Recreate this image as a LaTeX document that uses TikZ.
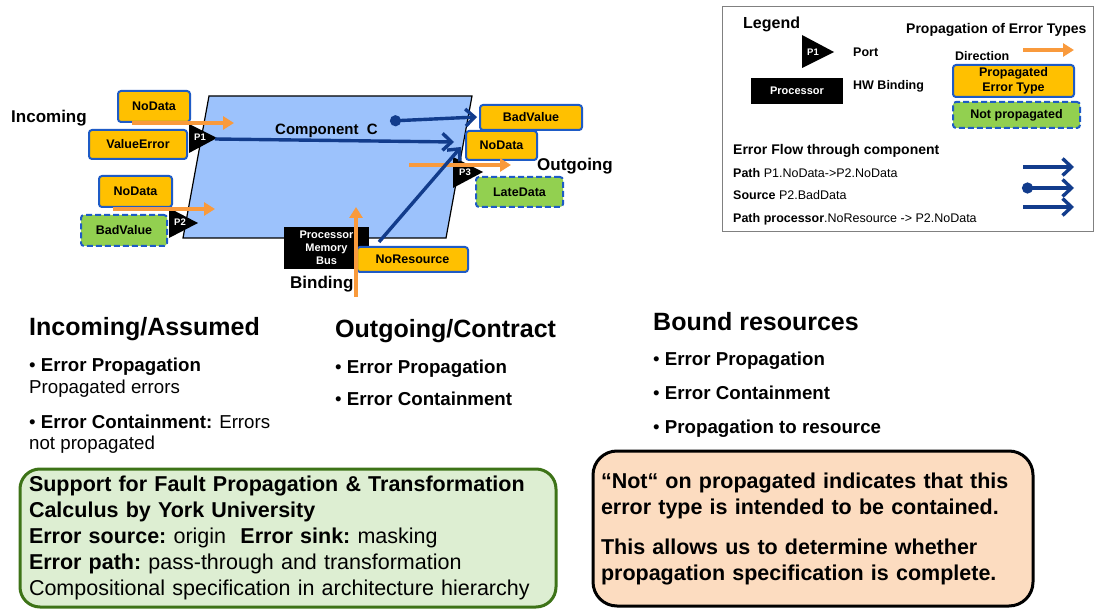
\documentclass[tikz,border=0pt]{standalone}
\usepackage{fontspec}
\setmainfont{Liberation Sans}
\usetikzlibrary{arrows.meta}

\definecolor{errorange}{HTML}{FFC000}
\definecolor{boxblue}{HTML}{1E5BC6}
\definecolor{okgreen}{HTML}{92D050}
\definecolor{compblue}{HTML}{9CC2FC}
\definecolor{flowblue}{HTML}{123C8C}
\definecolor{dirorange}{HTML}{F99A3C}
\definecolor{yorkfill}{HTML}{DDEED2}
\definecolor{yorkgreen}{HTML}{3D7317}
\definecolor{notefill}{HTML}{FCDCC0}

\newcommand{\fsz}[1]{\fontsize{#1}{#1}\selectfont}

\tikzset{
  txt/.style={inner sep=0pt, anchor=base west, font=\fsz{#1}},
  btxt/.style={inner sep=0pt, anchor=base west, font=\fsz{#1}\bfseries},
  errbox/.style={draw=boxblue, fill=errorange, line width=2pt, rounded corners=3pt,
    inner sep=0pt, align=center, font=\fontsize{12.5}{15}\selectfont\bfseries},
  okbox/.style={errbox, fill=okgreen, dash pattern=on 6pt off 3pt},
  procbox/.style={fill=black, text=white, inner sep=0pt, align=center,
    font=\fontsize{11}{13}\selectfont\bfseries},
  porttxt/.style={text=white, inner sep=0pt, font=\fsz{9.5}\bfseries},
  dirarrow/.style={draw=dirorange, line width=3.2pt, -{Triangle[length=11pt,width=13pt]}},
  flow/.style={draw=flowblue, line width=3.4pt, -{Straight Barb[length=9pt,width=17pt]}},
  srcflow/.style={flow, {Circle[length=11pt]}-{Straight Barb[length=9pt,width=17pt]}}
}

\begin{document}
\begin{tikzpicture}[x=1pt, y=-1pt]
\useasboundingbox (0,0) rectangle (1095,609);

% component C with its ports
\filldraw[fill=compblue, draw=black, line width=1.2pt] (209,96) -- (472,96) -- (446,238) -- (183,238) -- cycle;
\node[btxt=15] (comp) at (275,134.4) {Component\ \ C};

\fill (189,124) -- (217,138) -- (189,153) -- cycle;
\node[porttxt] (p1) at (200,137) {P1};
\fill (169,208) -- (198,223) -- (169,238) -- cycle;
\node[porttxt] (p2) at (180,222) {P2};
\fill (453,157) -- (483,172) -- (453,188) -- cycle;
\node[porttxt] (p3) at (465,172) {P3};

% error types on the ports
\node[errbox, minimum width=72, minimum height=31] (in1nd) at (154,106.5) {NoData};
\node[errbox, minimum width=98, minimum height=29] (in1ve) at (138,144.5) {ValueError};
\node[errbox, minimum width=73, minimum height=31] (in2nd) at (135.5,191.5) {NoData};
\node[okbox, minimum width=86, minimum height=31] (in2bv) at (124,230.5) {BadValue};
\node[errbox, minimum width=102, minimum height=25] (outbv) at (531,117.5) {BadValue};
\node[errbox, minimum width=71, minimum height=29] (outnd) at (501.5,145.5) {NoData};
\node[okbox, minimum width=87, minimum height=30] (outld) at (519.5,192) {LateData};

\node[procbox, minimum width=85, minimum height=42] (proc) at (326.5,248) {Processor\\Memory\\Bus};
\node[errbox, minimum width=111, minimum height=25] (nores) at (412.5,259.5) {NoResource};

\node[btxt=17] (incoming) at (11,123) {Incoming};
\node[btxt=17] (outgoing) at (537,171) {Outgoing};
\node[btxt=17] (binding) at (290,289) {Binding};

% direction of propagation
\coordinate (d1s) at (132,123); \coordinate (d1e) at (234,123);
\coordinate (d2s) at (113,209); \coordinate (d2e) at (215,209);
\coordinate (d3s) at (409,165); \coordinate (d3e) at (511,165);
\coordinate (d4s) at (356,297); \coordinate (d4e) at (356,207);
\draw[dirarrow] (d1s) -- (d1e);
\draw[dirarrow] (d2s) -- (d2e);
\draw[dirarrow] (d3s) -- (d3e);
\draw[dirarrow] (d4s) -- (d4e);

% error flows
\coordinate (p1tip) at (215,139);
\coordinate (f1e) at (454,142);
\coordinate (srcdot) at (390,121);
\coordinate (f2e) at (477,117);
\coordinate (procout) at (379,242);
\coordinate (f3e) at (461,147);
\draw[flow] (p1tip) -- (f1e);
\draw[srcflow] (srcdot) -- (f2e);
\draw[flow] (procout) -- (f3e);

% legend
\draw[gray, line width=1pt] (722,7) rectangle (1093,232);
\node[btxt=16] (legend) at (743,28.8) {Legend};
\fill (802,35) -- (834,52) -- (802,68) -- cycle;
\node[porttxt] (lp1) at (813,52) {P1};
\node[btxt=12.5] (lport) at (853,56.5) {Port};
\node[procbox, minimum width=92, minimum height=26] (lproc) at (797,91) {Processor};
\node[btxt=12.5] (lhw) at (853,89.5) {HW Binding};
\node[btxt=14] (lprop) at (906,34) {Propagation of Error Types};
\node[btxt=12.5] (ldir) at (955,60.5) {Direction};
\coordinate (ld1) at (1023,50); \coordinate (ld2) at (1074,50);
\draw[dirarrow] (ld1) -- (ld2);
\node[errbox, minimum width=121, minimum height=32] (lerr) at (1013.5,81) {Propagated\\Error Type};
\node[okbox, minimum width=127, minimum height=26] (lnot) at (1016.5,115) {Not propagated};
\node[btxt=14] (lflow) at (733,155) {Error Flow through component};
\node[txt=12.5] (lpath1) at (733,177.5) {\textbf{Path} P1.NoData->P2.NoData};
\node[txt=12.5] (lsrc) at (733,199.5) {\textbf{Source} P2.BadData};
\node[txt=12.5] (lpath2) at (733,222.5) {\textbf{Path processor}.NoResource -> P2.NoData};
\coordinate (la1) at (1023,167); \coordinate (lb1) at (1074,167);
\coordinate (la2) at (1022,188); \coordinate (lb2) at (1074,188);
\coordinate (la3) at (1023,207); \coordinate (lb3) at (1074,207);
\draw[flow] (la1) -- (lb1);
\draw[srcflow] (la2) -- (lb2);
\draw[flow] (la3) -- (lb3);

% the three columns
\node[btxt=25] (inhead) at (29,336) {Incoming/Assumed};
\node[txt=18.7] (in1) at (29,371.7) {• \textbf{Error Propagation}};
\node[txt=18.7] (in2) at (29,393.7) {Propagated errors};
\node[txt=18.7] (in3) at (29,428.7) {• \textbf{Error Containment:} Errors};
\node[txt=18.7] (in4) at (29,449.7) {not propagated};

\node[btxt=25] (outhead) at (335,338) {Outgoing/Contract};
\node[txt=18.7] (out1) at (335,373.7) {• \textbf{Error Propagation}};
\node[txt=18.7] (out2) at (335,405.7) {• \textbf{Error Containment}};

\node[btxt=25] (boundhead) at (653,330.5) {Bound resources};
\node[txt=18.7] (bound1) at (653,365.7) {• \textbf{Error Propagation}};
\node[txt=18.7] (bound2) at (653,399.4) {• \textbf{Error Containment}};
\node[txt=18.7] (bound3) at (653,433.4) {• \textbf{Propagation to resource}};

% notes
\node[draw=yorkgreen, fill=yorkfill, line width=3pt, rounded corners=20pt,
  minimum width=536, minimum height=138, inner xsep=9pt, text width=518,
  align=left, font=\fontsize{21.5}{26.2}\selectfont] (york) at (288,538)
  {\textbf{Support for Fault Propagation \& Transformation}\\
   \textbf{Calculus by York University}\\
   \textbf{Error source:}~origin\ \ \textbf{Error sink:}~masking\\
   \textbf{Error path:}~pass-through and transformation\\
   Compositional specification in architecture hierarchy};

\node[draw=black, fill=notefill, line width=3pt, rounded corners=24pt,
  minimum width=440, minimum height=155, inner xsep=8pt, text width=424,
  align=left, font=\fontsize{21.5}{26}\selectfont\bfseries] (note) at (813,528.5)
  {“Not“ on propagated indicates that this\\
   error type is intended to be contained.\\[14pt]
   This allows us to determine whether\\
   propagation specification is complete.};
\end{tikzpicture}
\end{document}
